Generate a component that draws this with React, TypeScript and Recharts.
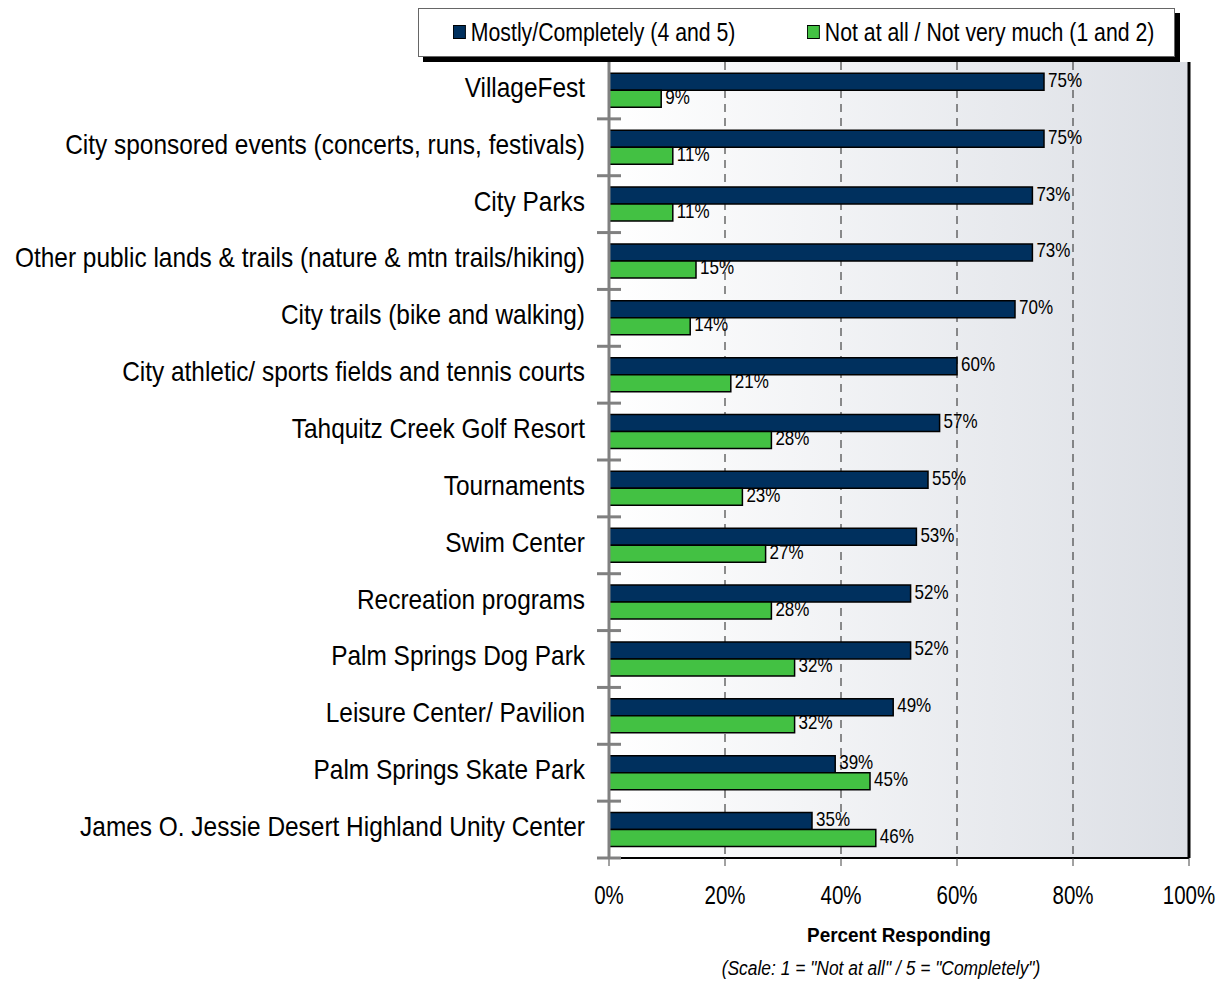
import React from "react";
import {
  BarChart,
  Bar,
  XAxis,
  YAxis,
  CartesianGrid,
  LabelList,
  ReferenceLine,
} from "recharts";

const categories = [
  "VillageFest",
  "City sponsored events (concerts, runs, festivals)",
  "City Parks",
  "Other public lands & trails (nature & mtn trails/hiking)",
  "City trails (bike and walking)",
  "City athletic/ sports fields and tennis courts",
  "Tahquitz Creek Golf Resort",
  "Tournaments",
  "Swim Center",
  "Recreation programs",
  "Palm Springs Dog Park",
  "Leisure Center/ Pavilion",
  "Palm Springs Skate Park",
  "James O. Jessie Desert Highland Unity Center",
];
const mostly = [75, 75, 73, 73, 70, 60, 57, 55, 53, 52, 52, 49, 39, 35];
const notAtAll = [9, 11, 11, 15, 14, 21, 28, 23, 27, 28, 32, 32, 45, 46];
const xTicks = [0, 20, 40, 60, 80, 100];

const data = categories.map((name, i) => ({
  name,
  mostly: mostly[i],
  notAtAll: notAtAll[i],
}));

// no Arial Narrow offline: squeeze Liberation Sans horizontally instead
const FONT = '"Liberation Sans", Arial, sans-serif';
const NAVY = "#00305e";
const GREEN = "#43c143";

const W = 1224;
const H = 981;
const TOP = 62;
const BOTTOM = 123;
const Y_W = 609;
const RIGHT = 35;
const BAND = (H - TOP - BOTTOM) / categories.length;

function Narrow({ x, y, anchor, size, sq = 0.82, children }: any) {
  return (
    <text
      transform={`translate(${x},${y}) scale(${sq},1)`}
      textAnchor={anchor}
      dominantBaseline="central"
      fontFamily={FONT}
      fontSize={size}
      fill="#000"
    >
      {children}
    </text>
  );
}

function YTick(props: any) {
  const { x, y, payload } = props;
  return (
    <g>
      <Narrow x={x - 24} y={y - 3} anchor="end" size={27} sq={0.905}>
        {payload.value}
      </Narrow>
      <line x1={x - 12} x2={x + 12} y1={y + BAND / 2} y2={y + BAND / 2} stroke="#808080" strokeWidth={3} />
    </g>
  );
}

function XTick(props: any) {
  const { x, y, payload } = props;
  return (
    <Narrow x={x} y={y + 27} anchor="middle" size={25}>
      {payload.value}%
    </Narrow>
  );
}

function ValueLabel(props: any) {
  const { x, y, width, height, value } = props;
  return (
    <Narrow x={x + width + 4} y={y + height / 2 - 2} anchor="start" size={20} sq={0.85}>
      {value}%
    </Narrow>
  );
}

function LegendBox() {
  const sq = (c: string) => (
    <span
      style={{
        display: "inline-block",
        width: 13,
        height: 12,
        background: c,
        border: "1.5px solid #000",
        marginRight: 6,
        verticalAlign: "middle",
        position: "relative",
        top: -2,
      }}
    />
  );
  const item: React.CSSProperties = {
    position: "absolute",
    transform: "scaleX(0.85)",
    transformOrigin: "left center",
  };
  return (
    <div
      style={{
        position: "absolute",
        left: 418,
        top: 8,
        width: 755,
        height: 47,
        border: "1px solid #666",
        background: "#fff",
        boxShadow: "5px 5px 0 #000",
        fontFamily: FONT,
        fontSize: 25,
        lineHeight: "47px",
        whiteSpace: "nowrap",
      }}
    >
      <span style={{ ...item, left: 34 }}>{sq(NAVY)}Mostly/Completely (4 and 5)</span>
      <span style={{ ...item, left: 388 }}>{sq(GREEN)}Not at all / Not very much (1 and 2)</span>
    </div>
  );
}

export default function App() {
  const center: React.CSSProperties = {
    position: "absolute",
    textAlign: "center",
    fontFamily: FONT,
    whiteSpace: "nowrap",
  };
  return (
    <div style={{ position: "absolute", left: 0, top: 0, width: W, height: H, background: "#fff" }}>
      <BarChart
        width={W}
        height={H}
        data={data}
        layout="vertical"
        margin={{ top: TOP, right: RIGHT, bottom: 0, left: 0 }}
        barCategoryGap="20%"
        barGap={0}
      >
        <defs>
          <linearGradient id="bgGrad" x1="0" y1="0" x2="1" y2="0">
            <stop offset="0%" stopColor="#ffffff" />
            <stop offset="100%" stopColor="#dcdfe5" />
          </linearGradient>
        </defs>
        <CartesianGrid
          horizontal={false}
          vertical
          fill="url(#bgGrad)"
          stroke="#444"
          strokeDasharray="8 6"
          strokeWidth={1.2}
        />
        <XAxis
          type="number"
          domain={[0, 100]}
          ticks={xTicks}
          height={BOTTOM}
          axisLine={{ stroke: "#000", strokeWidth: 2 }}
          tickLine={{ stroke: "#444" }}
          tickSize={8}
          tick={<XTick />}
          interval={0}
        />
        <XAxis
          xAxisId="top"
          orientation="top"
          type="number"
          domain={[0, 100]}
          height={0}
          tick={false}
          tickLine={false}
          axisLine={{ stroke: "#999", strokeWidth: 1 }}
        />
        <YAxis
          type="category"
          dataKey="name"
          width={Y_W}
          axisLine={{ stroke: "#808080", strokeWidth: 3 }}
          tickLine={false}
          tickSize={0}
          tickMargin={0}
          tick={<YTick />}
          interval={0}
        />
        <ReferenceLine x={100} stroke="#000" strokeWidth={3} />
        <Bar dataKey="mostly" fill={NAVY} stroke="#000" strokeWidth={1.5} isAnimationActive={false}>
          <LabelList dataKey="mostly" content={<ValueLabel />} />
        </Bar>
        <Bar dataKey="notAtAll" fill={GREEN} stroke="#000" strokeWidth={1.5} isAnimationActive={false}>
          <LabelList dataKey="notAtAll" content={<ValueLabel />} />
        </Bar>
      </BarChart>
      <LegendBox />
      <div
        style={{
          ...center,
          left: Y_W,
          width: W - Y_W - RIGHT,
          top: 923,
          fontWeight: "bold",
          fontSize: 21,
          transform: "scaleX(0.9)",
        }}
      >
        Percent Responding
      </div>
      <div
        style={{
          ...center,
          left: Y_W - 18,
          width: W - Y_W - RIGHT,
          top: 957,
          fontStyle: "italic",
          fontSize: 20,
          transform: "scaleX(0.87)",
        }}
      >
        (Scale: 1 = "Not at all" / 5 = "Completely")
      </div>
    </div>
  );
}
